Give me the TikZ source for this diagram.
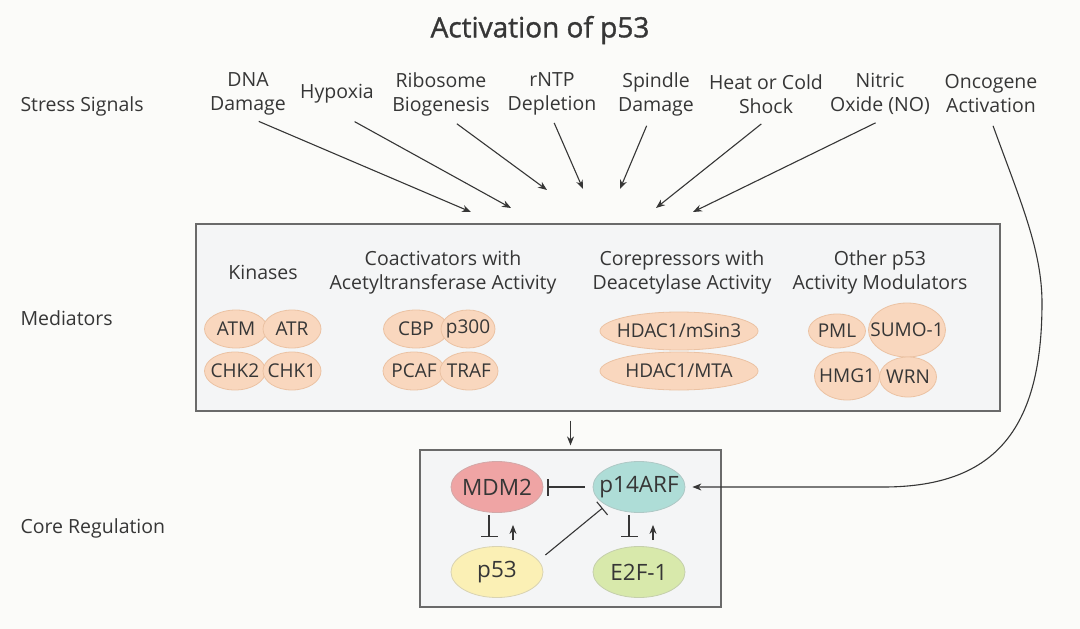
\documentclass[tikz,border=0pt]{standalone}
\usepackage{fontspec}
\setmainfont{Open Sans}
\newfontfamily\titlefont[FakeBold=1.2]{Open Sans}
\usetikzlibrary{shapes,arrows.meta,positioning,calc}

\definecolor{canvas}{HTML}{FBFBF9}
\definecolor{ink}{HTML}{363636}
\definecolor{panelfill}{HTML}{F4F5F6}
\definecolor{panelline}{HTML}{6A6A6A}
\definecolor{peach}{HTML}{F9D7BE}
\definecolor{peachline}{HTML}{EBC2A3}
\definecolor{mdmred}{HTML}{EFA4A4}
\definecolor{arfteal}{HTML}{AEDDD7}
\definecolor{ptyellow}{HTML}{FBF0B5}
\definecolor{efgreen}{HTML}{D8E9AB}

\begin{document}
\begin{tikzpicture}[x=1pt,y=-1pt,
  lbl/.style={font=\fontsize{19.5}{24}\selectfont, text=ink, align=center},
  rowlbl/.style={font=\fontsize{19.5}{24}\selectfont, text=ink, anchor=west},
  signal/.style={lbl, minimum height=52pt, inner sep=0pt},
  panel/.style={draw=panelline, fill=panelfill, line width=1.2pt, inner sep=0pt},
  prot/.style={ellipse, draw=peachline, fill=peach, line width=0.8pt, inner xsep=-14pt,
    inner ysep=-6pt, minimum height=38pt, font=\fontsize{19}{21}\selectfont, text=ink},
  core/.style={ellipse, line width=0.8pt, inner xsep=-12pt, inner ysep=0pt, minimum width=92pt,
    minimum height=51pt, font=\fontsize{22.5}{24}\selectfont, text=ink},
  sig/.style={-{Stealth[length=9pt,width=7pt]}, draw=ink, line width=1.1pt},
  inhib/.style={-{Bar[width=17pt,line width=1.1pt]}, draw=ink, line width=1.1pt},
]

% Canvas
\fill[canvas] (0,0) rectangle (1080,629);
\useasboundingbox (0,0) rectangle (1080,629);

% Title
\node[font=\titlefont\fontsize{28}{32}\selectfont, text=ink] (title) at (540,30) {Activation of p53};

% Row labels
\node[rowlbl] (rowstress) at (17,106) {Stress Signals};
\node[rowlbl] (rowmed) at (17,318) {Mediators};
\node[rowlbl] (rowcore) at (17,528) {Core Regulation};

% Stress signals
\node[signal] (dna) at (248,94) {DNA\\Damage};
\node[signal] (hypoxia) at (337,94) {Hypoxia};
\node[signal] (ribo) at (441,94) {Ribosome\\Biogenesis};
\node[signal] (rntp) at (552,94) {rNTP\\Depletion};
\node[signal] (spindle) at (656,94) {Spindle\\Damage};
\node[signal] (heat) at (766,94) {Heat or Cold\\Shock};
\node[signal] (nitric) at (880,94) {Nitric\\Oxide (NO)};
\node[signal] (onco) at (991,94) {Oncogene\\Activation};

% Arrow targets above the mediators
\coordinate (tdna) at (471,212);
\coordinate (thypoxia) at (511,208);
\coordinate (tribo) at (547,190);
\coordinate (trntp) at (583,189);
\coordinate (tspindle) at (620,189);
\coordinate (theat) at (656,208);
\coordinate (tnitric) at (693,212);

% Mediators panel
\node[panel, minimum width=804pt, minimum height=187pt] (medbox) at (598,317.5) {};

\node[lbl] (kin) at (263,272) {Kinases};
\node[lbl] (coact) at (443,272) {Coactivators with\\Acetyltransferase Activity};
\node[lbl] (corep) at (682,272) {Corepressors with\\Deacetylase Activity};
\node[lbl] (other) at (880,272) {Other p53\\Activity Modulators};

\node[prot, minimum width=63pt] (atm) at (236,329) {ATM};
\node[prot, minimum width=58pt] (atr) at (292,329) {ATR};
\node[prot, minimum width=61pt] (chk2) at (235,371) {CHK2};
\node[prot, minimum width=58pt] (chk1) at (292,371) {CHK1};

\node[prot, minimum width=65pt] (cbp) at (416,329) {CBP};
\node[prot, minimum width=54pt] (p300) at (468,329) {p300};
\node[prot, minimum width=62pt] (pcaf) at (414,371) {PCAF};
\node[prot, minimum width=58pt] (traf) at (469,371) {TRAF};

\node[prot, minimum width=158pt] (msin) at (679,331) {HDAC1/mSin3};
\node[prot, minimum width=158pt] (mta) at (679,371) {HDAC1/MTA};

\node[prot, minimum width=57pt, minimum height=34pt] (pml) at (837,331) {PML};
\node[prot, minimum width=77pt, minimum height=54pt] (sumo) at (907,330) {SUMO-1};
\node[prot, minimum width=65pt, minimum height=48pt] (hmg) at (847,376) {HMG1};
\node[prot, minimum width=57pt, minimum height=40pt] (wrn) at (908,377) {WRN};

% Core regulation panel
\node[panel, minimum width=301pt, minimum height=157pt] (corebox) at (570.5,528.5) {};

\node[core, draw=mdmred!80!black!70, fill=mdmred] (mdm2) at (497,487) {MDM2};
\node[core, draw=arfteal!80!black!70, fill=arfteal] (p14arf) at (639,487) {p14ARF};
\node[core, draw=ptyellow!80!black!70, fill=ptyellow] (p53) at (497,572) {p53};
\node[core, draw=efgreen!80!black!70, fill=efgreen] (e2f) at (639,572) {E2F-1};

% Stress arrows
\draw[sig, shorten <=3pt] ([xshift=8pt]dna.south) -- (tdna);
\draw[sig, shorten <=3pt] ([xshift=15pt]hypoxia.south) -- (thypoxia);
\draw[sig, shorten <=6pt] ([xshift=11pt]ribo.south) -- (tribo);
\draw[sig, shorten <=3pt] ([xshift=1pt]rntp.south) -- (trntp);
\draw[sig, shorten <=6pt] ([xshift=-7pt]spindle.south) -- (tspindle);
\draw[sig, shorten <=6pt] (heat.south) -- (theat);
\draw[sig, shorten <=6pt] ([xshift=1pt]nitric.south) -- (tnitric);

% Oncogene activation loops round to p14ARF
\coordinate (bendA) at (1042,303);
\coordinate (bendB) at (880,487);
\draw[sig, shorten <=6pt, shorten >=7pt] (onco.south) .. controls (1020,200) and (1042,250) .. (bendA)
  .. controls (1042,432) and (993,488) .. (bendB) -- (p14arf.east);

% Mediators to core
\draw[sig, shorten <=9pt, shorten >=4pt] (medbox.south -| corebox) -- (corebox.north);

% Core interactions
\draw[inhib, shorten <=8pt, shorten >=4pt] (p14arf.west) -- (mdm2.east);
\draw[inhib, shorten <=2pt, shorten >=9pt] ([xshift=-8pt]mdm2.south) -- ([xshift=-8pt]p53.north);
\draw[sig, shorten <=6pt, shorten >=12pt] ([xshift=16pt]p53.north) -- ([xshift=16pt]mdm2.south);
\draw[inhib, shorten <=2pt, shorten >=9pt] ([xshift=-10pt]p14arf.south) -- ([xshift=-10pt]e2f.north);
\draw[sig, shorten <=6pt, shorten >=12pt] ([xshift=14pt]e2f.north) -- ([xshift=14pt]p14arf.south);
\draw[inhib] ([shift={(2,-17)}]p53.east) -- ([shift={(10,21)}]p14arf.west);

\end{tikzpicture}
\end{document}
